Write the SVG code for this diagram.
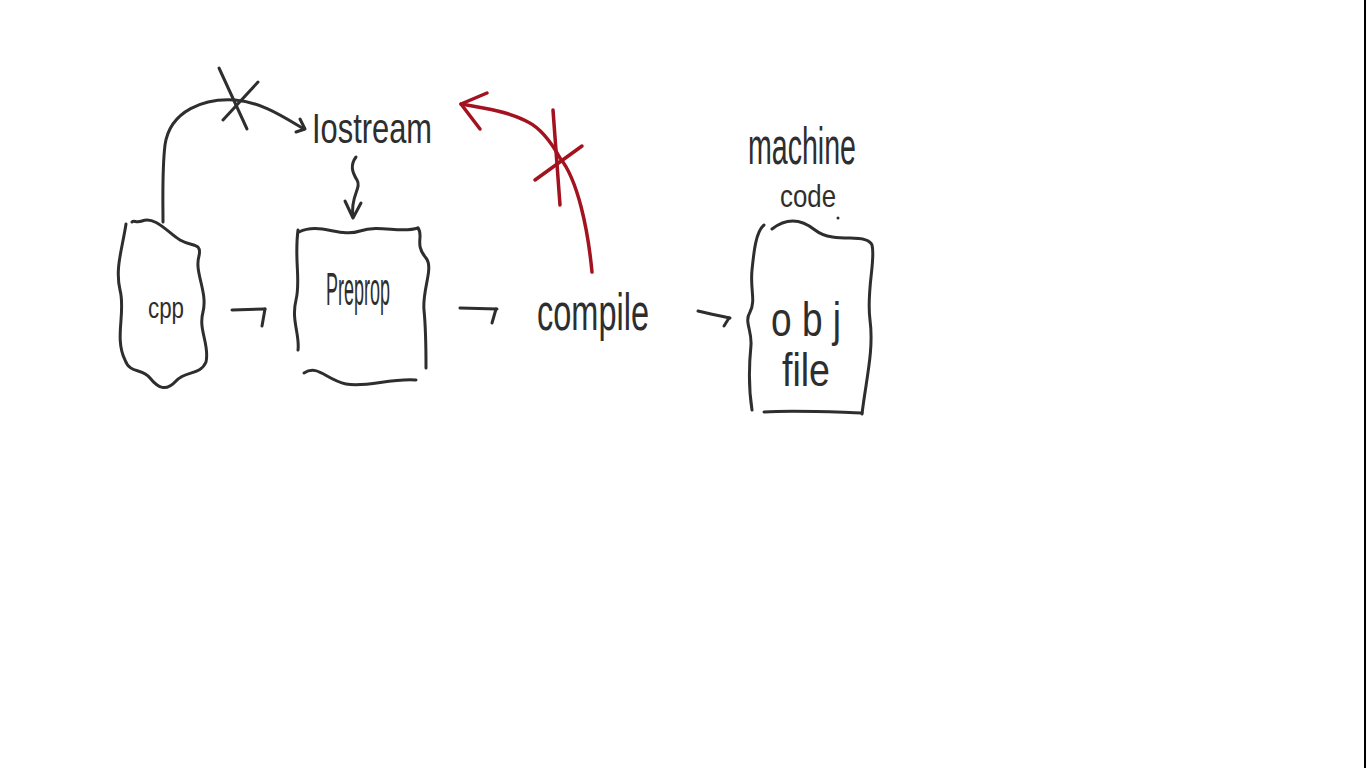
<svg xmlns="http://www.w3.org/2000/svg" width="1366" height="768" viewBox="0 0 1366 768">
<style>
.ink{fill:none;stroke:#2e2e2e;stroke-width:3;stroke-linecap:round;stroke-linejoin:round}
.red{fill:none;stroke:#a3121f;stroke-width:3.5;stroke-linecap:round;stroke-linejoin:round}
.t{font-family:"Liberation Sans","DejaVu Sans",sans-serif;fill:#2e2e2e;font-weight:normal}
</style>
<rect width="1366" height="768" fill="#ffffff"/>
<line x1="1365" y1="0" x2="1365" y2="768" stroke="#000" stroke-width="2"/>

<g id="node-cpp">
<path class="ink" d="M126,224 C122,250 115,268 120,290 C126,312 114,338 125,360 C130,374 142,368 150,378 C158,388 166,392 176,381 C186,370 200,376 206,362 C210,345 198,330 203,312 C208,292 194,272 199,256 C202,242 192,247 180,240 C168,233 156,216 142,221 C136,223 134,220 132,222"/>
<text class="t" x="166" y="318" font-size="30" text-anchor="middle" textLength="36" lengthAdjust="spacingAndGlyphs">cpp</text>
</g>

<g id="node-preprop">
<path class="ink" d="M298,230 C294,260 301,280 296,300 C291,320 300,335 298,350"/>
<path class="ink" d="M299,232 C320,222 340,238 360,231 C380,224 400,234 418,228"/>
<path class="ink" d="M418,228 C424,236 414,244 426,258 C434,268 422,290 424,310 C426,330 426,350 426,368"/>
<path class="ink" d="M304,373 C318,364 326,380 346,384 C366,388 390,378 416,380"/>
<text class="t" x="358" y="305" font-size="46" text-anchor="middle" textLength="64" lengthAdjust="spacingAndGlyphs">Preprop</text>
</g>

<g id="node-iostream">
<text class="t" x="312" y="143" font-size="42" textLength="120" lengthAdjust="spacingAndGlyphs">Iostream</text>
</g>

<g id="node-compile">
<text class="t" x="537" y="330" font-size="52" textLength="112" lengthAdjust="spacingAndGlyphs">compile</text>
</g>

<g id="node-machine-code">
<text class="t" x="748" y="164" font-size="52" textLength="108" lengthAdjust="spacingAndGlyphs">machine</text>
<text class="t" x="780" y="207" font-size="32" textLength="56" lengthAdjust="spacingAndGlyphs">code</text>
<circle cx="838" cy="218" r="1.5" fill="#2e2e2e"/>
</g>

<g id="node-obj">
<path class="ink" d="M764,225 C756,232 754,250 752,270 C750,290 756,300 750,312 C744,322 752,330 751,345 C749,365 748,385 752,410"/>
<path class="ink" d="M772,229 C790,215 805,222 815,230 C825,238 840,238 850,238 C862,238 870,240 872,245 C876,260 866,290 870,320 C874,350 866,380 862,414"/>
<path class="ink" d="M764,412 C795,410 830,412 862,413"/>
<text class="t" x="806" y="336" font-size="48" text-anchor="middle" textLength="70" lengthAdjust="spacingAndGlyphs">o b j</text>
<text class="t" x="806" y="386" font-size="46" text-anchor="middle" textLength="48" lengthAdjust="spacingAndGlyphs">file</text>
</g>

<g id="connectors">
<path class="ink" d="M163,222 C163,200 162,170 165,145 C170,110 205,98 235,100 C262,102 285,118 304,129"/>
<path class="ink" d="M300,119 L305,129 L296,132"/>
<line class="ink" x1="219" y1="68" x2="247" y2="129"/>
<line class="ink" x1="258" y1="82" x2="223" y2="120"/>
<path class="ink" d="M356,157 C350,165 352,172 357,180 C362,188 350,196 353,216"/>
<path class="ink" d="M345,201 L353,218 L361,203"/>
<path class="ink" d="M232,310 L265,309"/>
<path class="ink" d="M265,309 L262,326"/>
<path class="ink" d="M460,308 L497,309"/>
<path class="ink" d="M496,309 L492,323"/>
<path class="ink" d="M698,311 C710,314 720,316 730,318"/>
<path class="ink" d="M729,318 L724,326"/>
<path class="red" d="M592,272 C588,230 578,180 560,158 C550,140 540,128 528,122 C510,112 485,108 461,104"/>
<path class="red" d="M487,93 L461,104 L480,129"/>
<line class="red" x1="553" y1="110" x2="560" y2="205"/>
<line class="red" x1="582" y1="146" x2="535" y2="180"/>
</g>
</svg>
